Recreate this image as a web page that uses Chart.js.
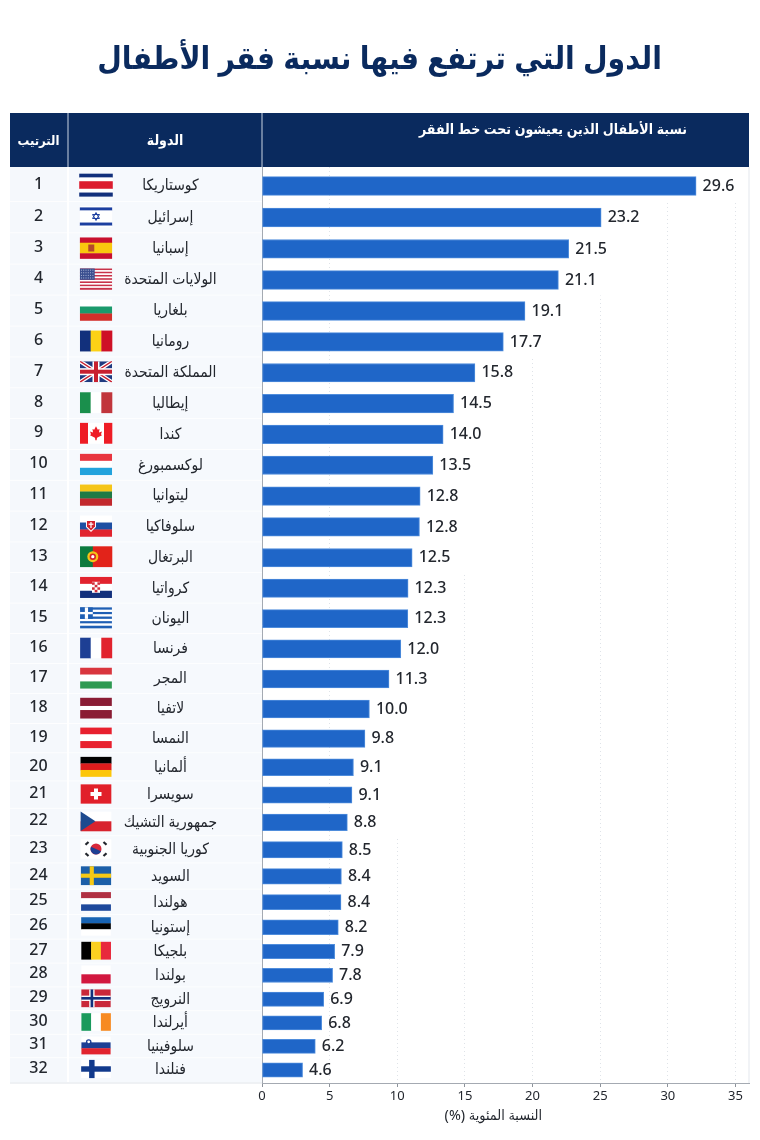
<!DOCTYPE html>
<html lang="ar">
<head>
<meta charset="utf-8">
<title>الدول التي ترتفع فيها نسبة فقر الأطفال</title>
<script src="https://cdn.jsdelivr.net/npm/chart.js@4"></script>
<style>
    html, body { margin: 0; padding: 0; background: #ffffff; }
    canvas { display: block; }
</style>
</head>
<body>
<canvas id="povertyChart" width="760" height="1140"></canvas>
<script>
// Chart text
const chartTitle = 'الدول التي ترتفع فيها نسبة فقر الأطفال';
const headerRank = 'الترتيب';
const headerCountry = 'الدولة';
const headerValue = 'نسبة الأطفال الذين يعيشون تحت خط الفقر';
const axisTitle = 'النسبة المئوية (%)';

// Categories
const ranks = [1, 2, 3, 4, 5, 6, 7, 8, 9, 10, 11, 12, 13, 14, 15, 16, 17, 18, 19, 20, 21, 22, 23, 24, 25, 26, 27, 28, 29, 30, 31, 32];
const countries = ['كوستاريكا', 'إسرائيل', 'إسبانيا', 'الولايات المتحدة', 'بلغاريا', 'رومانيا', 'المملكة المتحدة', 'إيطاليا', 'كندا', 'لوكسمبورغ', 'ليتوانيا', 'سلوفاكيا', 'البرتغال', 'كرواتيا', 'اليونان', 'فرنسا', 'المجر', 'لاتفيا', 'النمسا', 'ألمانيا', 'سويسرا', 'جمهورية التشيك', 'كوريا الجنوبية', 'السويد', 'هولندا', 'إستونيا', 'بلجيكا', 'بولندا', 'النرويج', 'أيرلندا', 'سلوفينيا', 'فنلندا'];
const flagCodes = ['cr', 'il', 'es', 'us', 'bg', 'ro', 'gb', 'it', 'ca', 'lu', 'lt', 'sk', 'pt', 'hr', 'gr', 'fr', 'hu', 'lv', 'at', 'de', 'ch', 'cz', 'kr', 'se', 'nl', 'ee', 'be', 'pl', 'no', 'ie', 'si', 'fi'];

// Numbers printed beside the bars
const printedValues = [29.6, 23.2, 21.5, 21.1, 19.1, 17.7, 15.8, 14.5, 14.0, 13.5, 12.8, 12.8, 12.5, 12.3, 12.3, 12.0, 11.3, 10.0, 9.8, 9.1, 9.1, 8.8, 8.5, 8.4, 8.4, 8.2, 7.9, 7.8, 6.9, 6.8, 6.2, 4.6];

// Bar lengths read against the printed axis. In the picture they do not agree
// with the printed numbers (29.6 ends near 32.1, 4.6 ends near 3.0), so both are kept.
const barLengths = [32.09, 25.07, 22.67, 21.91, 19.44, 17.84, 15.74, 14.16, 13.39, 12.63, 11.69, 11.64, 11.10, 10.80, 10.78, 10.26, 9.39, 7.94, 7.61, 6.76, 6.65, 6.31, 5.94, 5.87, 5.84, 5.64, 5.37, 5.22, 4.56, 4.41, 3.94, 3.00];

// Axis
const axisMax = 36;
const axisStep = 5;

// Layout: row centres below the top of the plot (rows get shorter towards the bottom)
const rowCentres = [19, 50.5, 82, 113, 144, 175, 205.7, 236.7, 267.3, 298.3, 329, 360, 390.7, 421.3, 451.7, 482, 512, 542, 571.7, 600.7, 628, 655.3, 683, 709.7, 735.3, 760.3, 784.7, 808.3, 832.3, 856, 879.3, 903];

const FONT = '"Noto Sans", "DejaVu Sans Condensed", sans-serif';
const NAVY = '#0a2a5e';
const TEXT = '#23272e';

// Category scale with uneven row heights
class RowScale extends Chart.CategoryScale {
    getPixelForValue(value) {
        const index = typeof value === 'number' ? value : this.parse(value);
        return this.top + rowCentres[index];
    }
}
RowScale.id = 'rows';
RowScale.defaults = Chart.CategoryScale.defaults;
Chart.register(RowScale);

// Top and bottom edge of a row
function rowEdges(i, top, bottom) {
    const upper = i === 0 ? top : top + (rowCentres[i - 1] + rowCentres[i]) / 2;
    const lower = i === rowCentres.length - 1 ? bottom : top + (rowCentres[i] + rowCentres[i + 1]) / 2;
    return [upper, lower];
}

// Flag helpers
function stripes(ctx, x, y, w, h, colors, vertical, weights) {
    const total = weights ? weights.reduce((a, b) => a + b, 0) : colors.length;
    let pos = 0;
    colors.forEach((color, i) => {
        const part = (weights ? weights[i] : 1) / total;
        ctx.fillStyle = color;
        if (vertical) {
            ctx.fillRect(x + pos * w, y, part * w + 0.3, h);
        } else {
            ctx.fillRect(x, y + pos * h, w, part * h + 0.3);
        }
        pos += part;
    });
}

function nordicCross(ctx, x, y, w, h, bg, colors, sizes) {
    ctx.fillStyle = bg;
    ctx.fillRect(x, y, w, h);
    colors.forEach((color, i) => {
        const t = sizes[i] * h;
        ctx.fillStyle = color;
        ctx.fillRect(x + w * 0.36 - t / 2, y, t, h);
        ctx.fillRect(x, y + h / 2 - t / 2, w, t);
    });
}

function polygon(ctx, points, color) {
    ctx.fillStyle = color;
    ctx.beginPath();
    points.forEach((p, i) => (i ? ctx.lineTo(p[0], p[1]) : ctx.moveTo(p[0], p[1])));
    ctx.closePath();
    ctx.fill();
}

function disc(ctx, x, y, r, color) {
    ctx.fillStyle = color;
    ctx.beginPath();
    ctx.arc(x, y, r, 0, Math.PI * 2);
    ctx.fill();
}

// Draw one flag inside the box x, y, w, h
function drawFlag(ctx, code, x, y, w, h) {
    const cx = x + w / 2;
    const cy = y + h / 2;
    ctx.save();
    switch (code) {
        case 'cr':
            stripes(ctx, x, y, w, h, ['#12307c', '#ffffff', '#dc1c2e', '#ffffff', '#12307c'], false, [1, 1, 2, 1, 1]);
            break;
        case 'il':
            stripes(ctx, x, y, w, h, ['#ffffff', '#1c3fa0', '#ffffff', '#1c3fa0', '#ffffff'], false, [1, 2, 8, 2, 1]);
            ctx.strokeStyle = '#1c3fa0';
            ctx.lineWidth = 1;
            [-Math.PI / 2, Math.PI / 2].forEach(a => {
                ctx.beginPath();
                for (let k = 0; k < 3; k++) {
                    const t = a + k * Math.PI * 2 / 3;
                    const px = cx + Math.cos(t) * 4;
                    const py = cy + Math.sin(t) * 4;
                    if (k) { ctx.lineTo(px, py); } else { ctx.moveTo(px, py); }
                }
                ctx.closePath();
                ctx.stroke();
            });
            break;
        case 'es':
            stripes(ctx, x, y, w, h, ['#c8102e', '#f9c80e', '#c8102e'], false, [1, 2, 1]);
            ctx.fillStyle = '#b5482a';
            ctx.fillRect(x + w * 0.26, cy - 3.5, 6, 7);
            break;
        case 'us': {
            const colors = [];
            for (let i = 0; i < 13; i++) { colors.push(i % 2 ? '#ffffff' : '#c8324a'); }
            stripes(ctx, x, y, w, h, colors, false);
            ctx.fillStyle = '#3a4f8f';
            ctx.fillRect(x, y, w * 0.46, h * 0.54);
            ctx.fillStyle = '#c5cde6';
            for (let r = 0; r < 4; r++) {
                for (let c = 0; c < 6; c++) {
                    ctx.fillRect(x + 1 + c * 2.3, y + 1.2 + r * 2.6, 0.9, 0.9);
                }
            }
            break;
        }
        case 'bg':
            stripes(ctx, x, y, w, h, ['#ffffff', '#1b9a6b', '#d32f2a'], false);
            break;
        case 'ro':
            stripes(ctx, x, y, w, h, ['#12307c', '#fcd116', '#ce1126'], true);
            break;
        case 'gb':
            ctx.beginPath();
            ctx.rect(x, y, w, h);
            ctx.clip();
            ctx.fillStyle = '#1f3a80';
            ctx.fillRect(x, y, w, h);
            ctx.lineWidth = 4;
            ctx.strokeStyle = '#ffffff';
            ctx.beginPath();
            ctx.moveTo(x, y); ctx.lineTo(x + w, y + h);
            ctx.moveTo(x + w, y); ctx.lineTo(x, y + h);
            ctx.stroke();
            ctx.lineWidth = 1.4;
            ctx.strokeStyle = '#c8202f';
            ctx.stroke();
            ctx.fillStyle = '#ffffff';
            ctx.fillRect(cx - 3.5, y, 7, h);
            ctx.fillRect(x, cy - 3.5, w, 7);
            ctx.fillStyle = '#c8202f';
            ctx.fillRect(cx - 2, y, 4, h);
            ctx.fillRect(x, cy - 2, w, 4);
            break;
        case 'it':
            stripes(ctx, x, y, w, h, ['#1a8f4c', '#ffffff', '#c1353c'], true);
            break;
        case 'ca':
            stripes(ctx, x, y, w, h, ['#ee1c25', '#ffffff', '#ee1c25'], true, [1, 2, 1]);
            polygon(ctx, [[cx, cy - 7], [cx + 1.8, cy - 3.5], [cx + 3.5, cy - 4.2], [cx + 3, cy - 0.8], [cx + 6, cy - 1.8], [cx + 5, cy + 1], [cx + 6, cy + 2], [cx + 1, cy + 4.5], [cx + 0.6, cy + 7], [cx - 0.6, cy + 7], [cx - 1, cy + 4.5], [cx - 6, cy + 2], [cx - 5, cy + 1], [cx - 6, cy - 1.8], [cx - 3, cy - 0.8], [cx - 3.5, cy - 4.2], [cx - 1.8, cy - 3.5]], '#ee1c25');
            break;
        case 'lu':
            stripes(ctx, x, y, w, h, ['#e8343f', '#ffffff', '#22a2dc'], false);
            break;
        case 'lt':
            stripes(ctx, x, y, w, h, ['#f5c518', '#1f7a45', '#c1272d'], false);
            break;
        case 'sk':
            stripes(ctx, x, y, w, h, ['#ffffff', '#1d4fa3', '#e1232e'], false);
            polygon(ctx, [[x + 6, cy - 6], [x + 16, cy - 6], [x + 16, cy + 1], [x + 11, cy + 6], [x + 6, cy + 1]], '#ffffff');
            polygon(ctx, [[x + 7, cy - 5], [x + 15, cy - 5], [x + 15, cy + 0.5], [x + 11, cy + 4.6], [x + 7, cy + 0.5]], '#d3202c');
            ctx.fillStyle = '#ffffff';
            ctx.fillRect(x + 10.4, cy - 4, 1.2, 6);
            ctx.fillRect(x + 8.6, cy - 2.4, 4.8, 1.2);
            break;
        case 'pt':
            stripes(ctx, x, y, w, h, ['#0c7a3e', '#e2231a'], true, [2, 3]);
            disc(ctx, x + w * 0.4, cy, 5.5, '#f5c518');
            disc(ctx, x + w * 0.4, cy, 3.2, '#d8232a');
            disc(ctx, x + w * 0.4, cy, 1.6, '#ffffff');
            break;
        case 'hr':
            stripes(ctx, x, y, w, h, ['#e2232e', '#ffffff', '#12307c'], false);
            ctx.fillStyle = '#ffffff';
            ctx.fillRect(cx - 4, cy - 5.5, 8, 11);
            ctx.fillStyle = '#d0303c';
            for (let r = 0; r < 4; r++) {
                for (let c = 0; c < 3; c++) {
                    if ((r + c) % 2 === 0) { ctx.fillRect(cx - 4 + c * 2.7, cy - 5 + r * 2.5, 2.7, 2.5); }
                }
            }
            break;
        case 'gr': {
            const colors = [];
            for (let i = 0; i < 9; i++) { colors.push(i % 2 ? '#ffffff' : '#1f5fb4'); }
            stripes(ctx, x, y, w, h, colors, false);
            ctx.fillStyle = '#1f5fb4';
            ctx.fillRect(x, y, w * 0.4, h * 5 / 9);
            ctx.fillStyle = '#ffffff';
            ctx.fillRect(x, y + h * 2 / 9, w * 0.4, h / 9);
            ctx.fillRect(x + w * 0.15, y, w * 0.1, h * 5 / 9);
            break;
        }
        case 'fr':
            stripes(ctx, x, y, w, h, ['#1d3f94', '#ffffff', '#e1232e'], true);
            break;
        case 'hu':
            stripes(ctx, x, y, w, h, ['#d9363e', '#ffffff', '#2e9a52'], false);
            break;
        case 'lv':
            stripes(ctx, x, y, w, h, ['#8a1c34', '#ffffff', '#8a1c34'], false, [2, 1, 2]);
            break;
        case 'at':
            stripes(ctx, x, y, w, h, ['#e8202e', '#ffffff', '#e8202e'], false);
            break;
        case 'de':
            stripes(ctx, x, y, w, h, ['#000000', '#dd1c1c', '#fcc60a'], false);
            break;
        case 'ch':
            ctx.fillStyle = '#e1202a';
            ctx.fillRect(x, y, w, h);
            ctx.fillStyle = '#ffffff';
            ctx.fillRect(cx - 5.5, cy - 2, 11, 4);
            ctx.fillRect(cx - 2, cy - 5.5, 4, 11);
            break;
        case 'cz':
            stripes(ctx, x, y, w, h, ['#ffffff', '#d8232e'], false);
            polygon(ctx, [[x, y], [x + w * 0.48, cy], [x, y + h]], '#1d4a8e');
            break;
        case 'kr':
            ctx.fillStyle = '#ffffff';
            ctx.fillRect(x, y, w, h);
            disc(ctx, cx, cy, 5.5, '#d8283a');
            ctx.fillStyle = '#1d3f94';
            ctx.beginPath();
            ctx.arc(cx, cy, 5.5, 0.4, Math.PI + 0.4);
            ctx.closePath();
            ctx.fill();
            ctx.strokeStyle = '#22262c';
            ctx.lineWidth = 2.2;
            [[-1, -1], [1, -1], [-1, 1], [1, 1]].forEach(d => {
                ctx.beginPath();
                ctx.moveTo(cx + d[0] * 10.5, cy + d[1] * 4.2);
                ctx.lineTo(cx + d[0] * 7.5, cy + d[1] * 7);
                ctx.stroke();
            });
            break;
        case 'se':
            nordicCross(ctx, x, y, w, h, '#1c5fa8', ['#f6c915'], [0.22]);
            break;
        case 'nl':
            stripes(ctx, x, y, w, h, ['#b02f42', '#ffffff', '#1f4a9c'], false);
            break;
        case 'ee':
            stripes(ctx, x, y, w, h, ['#1763b3', '#000000', '#ffffff'], false);
            break;
        case 'be':
            stripes(ctx, x, y, w, h, ['#000000', '#fbd020', '#e8293c'], true);
            break;
        case 'pl':
            stripes(ctx, x, y, w, h, ['#ffffff', '#d2183f'], false);
            break;
        case 'no':
            nordicCross(ctx, x, y, w, h, '#c9283a', ['#ffffff', '#12307c'], [0.3, 0.15]);
            break;
        case 'ie':
            stripes(ctx, x, y, w, h, ['#1a9a5c', '#ffffff', '#f78a22'], true);
            break;
        case 'si':
            stripes(ctx, x, y, w, h, ['#ffffff', '#1d3f94', '#e1232e'], false);
            disc(ctx, x + w * 0.25, y + h * 0.32, 2.8, '#1d3f94');
            disc(ctx, x + w * 0.25, y + h * 0.3, 1.4, '#ffffff');
            break;
        case 'fi':
            nordicCross(ctx, x, y, w, h, '#ffffff', ['#123a8c'], [0.3]);
            break;
    }
    ctx.restore();
}

// Header band, column backgrounds and grid masking, painted under the bars
const tablePlugin = {
    id: 'tablePlugin',
    beforeDraw(chart) {
        const { ctx, chartArea } = chart;
        const { left, right, top, bottom } = chartArea;
        const tableLeft = 10;
        const rankRight = 68;
        ctx.save();

        // Row backgrounds of the two left columns
        ranks.forEach((rank, i) => {
            const [upper, lower] = rowEdges(i, top, bottom);
            ctx.fillStyle = '#f5f8fc';
            ctx.fillRect(tableLeft, upper, rankRight - 1 - tableLeft, lower - upper - 0.8);
            ctx.fillStyle = '#f6f9fd';
            ctx.fillRect(rankRight + 1, upper, left - rankRight - 1, lower - upper - 0.8);
        });
        ctx.fillStyle = '#dfe4ea';
        ctx.fillRect(tableLeft, bottom - 0.5, left - tableLeft, 1);

        // Right edge of the plot
        ctx.fillStyle = '#e4e8ed';
        ctx.fillRect(right - 0.5, top, 1, bottom - top);

        // Header band
        ctx.fillStyle = NAVY;
        ctx.fillRect(tableLeft, 113, right - tableLeft, top - 113);
        ctx.fillStyle = '#c9d3e2';
        ctx.fillRect(rankRight - 0.5, 113, 1, top - 113);
        ctx.fillRect(left - 0.5, 113, 1, top - 113);

        ctx.fillStyle = '#ffffff';
        ctx.textAlign = 'center';
        ctx.textBaseline = 'middle';
        ctx.direction = 'rtl';
        ctx.font = `600 13px ${FONT}`;
        ctx.fillText(headerRank, 38.5, 141);
        ctx.font = `600 14px ${FONT}`;
        ctx.fillText(headerCountry, 165, 141);
        ctx.fillText(headerValue, 553, 130);
        ctx.restore();
    },
    beforeDatasetsDraw(chart) {
        // Gridlines only start below the last bar label that would cross them
        const { ctx, chartArea, scales } = chart;
        const labelEnd = i => scales.x.getPixelForValue(barLengths[i]) + 40;
        ctx.save();
        ctx.fillStyle = '#ffffff';
        scales.x.ticks.forEach(tick => {
            const px = scales.x.getPixelForValue(tick.value);
            if (tick.value === 0) { return; }
            let first = 0;
            while (first < ranks.length && labelEnd(first) + 14 > px) { first++; }
            const [upper] = rowEdges(first, chartArea.top, chartArea.bottom);
            ctx.fillRect(px - 1.5, chartArea.top, 3, upper - chartArea.top);
        });
        ctx.restore();
    },
    afterDatasetsDraw(chart) {
        const { ctx, chartArea, scales } = chart;
        ctx.save();
        ctx.textBaseline = 'middle';

        ranks.forEach((rank, i) => {
            const y = scales.y.getPixelForValue(i);
            const [upper, lower] = rowEdges(i, chartArea.top, chartArea.bottom);
            const rowHeight = lower - upper;

            // Rank
            ctx.fillStyle = TEXT;
            ctx.textAlign = 'center';
            ctx.font = `500 16px ${FONT}`;
            ctx.fillText(String(rank), 38.5, y - 1.5);

            // Flag
            const flagH = 7 + 0.45 * rowHeight;
            const flagW = 20 + 0.39 * rowHeight;
            drawFlag(ctx, flagCodes[i], 96 - flagW / 2, y - 1 - flagH / 2, flagW, flagH);

            // Printed value
            ctx.fillStyle = TEXT;
            ctx.textAlign = 'left';
            ctx.font = `500 16px ${FONT}`;
            ctx.fillText(printedValues[i].toFixed(1), scales.x.getPixelForValue(barLengths[i]) + 6.5, y);
        });

        // Axis title, a little left of the plot centre as in the picture
        ctx.fillStyle = TEXT;
        ctx.textAlign = 'center';
        ctx.direction = 'rtl';
        ctx.font = `14.3px ${FONT}`;
        ctx.fillText(axisTitle, scales.x.getPixelForValue(17.1), 1116);
        ctx.restore();
    }
};

new Chart(document.getElementById('povertyChart'), {
    type: 'bar',
    data: {
        labels: countries,
        datasets: [{
            data: barLengths,
            backgroundColor: '#1f66c8',
            borderColor: '#4f8ddc',
            borderWidth: 1,
            borderSkipped: false,
            barThickness: 'flex',
            barPercentage: 0.6,
            categoryPercentage: 1
        }]
    },
    options: {
        indexAxis: 'y',
        responsive: false,
        animation: false,
        devicePixelRatio: 1,
        layout: {
            padding: { left: 10, right: 11, top: 0, bottom: 31 }
        },
        scales: {
            x: {
                type: 'linear',
                min: 0,
                max: axisMax,
                afterBuildTicks(scale) {
                    const ticks = [];
                    for (let v = 0; v <= axisMax; v += axisStep) { ticks.push({ value: v }); }
                    scale.ticks = ticks;
                },
                afterFit(scale) { scale.height = 26; },
                border: { color: '#a4aab2', dash: [1, 3] },
                grid: {
                    color: '#dfe3e8',
                    tickColor: '#8d939b',
                    tickLength: 4,
                    tickBorderDash: []
                },
                ticks: {
                    color: TEXT,
                    padding: 1,
                    maxRotation: 0,
                    font: { family: FONT, size: 13 }
                }
            },
            y: {
                type: 'rows',
                afterFit(scale) { scale.width = 252; },
                border: { color: '#a4aab2' },
                grid: { display: false, drawTicks: false },
                ticks: {
                    autoSkip: false,
                    crossAlign: 'center',
                    color: TEXT,
                    padding: 45,
                    font: { family: FONT, size: 15.5 }
                }
            }
        },
        plugins: {
            legend: { display: false },
            tooltip: { enabled: false },
            title: {
                display: true,
                text: chartTitle,
                color: NAVY,
                font: { family: FONT, size: 31.5, weight: 'bold', lineHeight: 1.2 },
                padding: { top: 41.1, bottom: 88.1 }
            }
        }
    },
    plugins: [tablePlugin]
});
</script>
</body>
</html>
